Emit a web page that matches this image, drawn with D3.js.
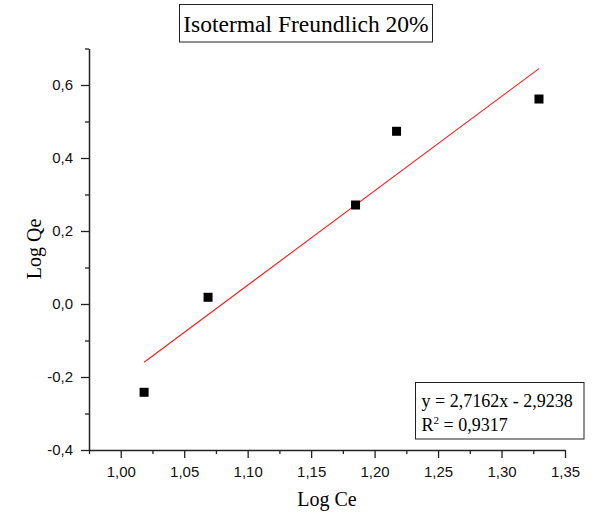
<!DOCTYPE html>
<html>
<head>
<meta charset="utf-8">
<script src="https://cdn.jsdelivr.net/npm/d3@7"></script>
<style>
  html, body { margin: 0; padding: 0; background: #fff; }
  svg { display: block; }
</style>
</head>
<body>
<svg id="chart" width="604" height="512"></svg>
<script>
// ---- data ----
const logCe = [1.0184, 1.0688, 1.1850, 1.2173, 1.3295];
const logQe = [-0.2419, 0.0184, 0.2712, 0.4732, 0.5616];
const xTicks = [1.00, 1.05, 1.10, 1.15, 1.20, 1.25, 1.30, 1.35];
const xMinorTicks = [0.975, 1.025, 1.075, 1.125, 1.175, 1.225, 1.275, 1.325];
const yTicks = [-0.4, -0.2, 0.0, 0.2, 0.4, 0.6];
const yMinorTicks = [-0.3, -0.1, 0.1, 0.3, 0.5, 0.7];
const titleText = "Isotermal Freundlich 20%";
const eqLines = ["y = 2,7162x - 2,9238", "R", " = 0,9317"];

const svg = d3.select("#chart");
const serif = "'Liberation Serif', 'Times New Roman', serif";
const sans = "'Liberation Sans', Arial, sans-serif";

const x = d3.scaleLinear().domain([0.975, 1.35]).range([89, 565]);
const y = d3.scaleLinear().domain([-0.4, 0.7]).range([450, 48.5]);

const fmt = d => d.toFixed(2).replace(".", ",");
const fmtY = d => (Math.abs(d) < 1e-9 ? 0 : d).toFixed(1).replace(".", ",");

// minor ticks
svg.append("g").attr("transform", "translate(0,450)")
  .call(d3.axisBottom(x).tickValues(xMinorTicks).tickSize(4).tickSizeOuter(0).tickFormat(""))
  .call(g => g.select(".domain").remove())
  .call(g => g.selectAll("line").attr("stroke", "#222").attr("stroke-width", 1.3));
svg.append("g").attr("transform", "translate(89,0)")
  .call(d3.axisLeft(y).tickValues(yMinorTicks).tickSize(4).tickSizeOuter(0).tickFormat(""))
  .call(g => g.select(".domain").remove())
  .call(g => g.selectAll("line").attr("stroke", "#222").attr("stroke-width", 1.3));

// major axes
const xAxis = svg.append("g").attr("transform", "translate(0,450)")
  .call(d3.axisBottom(x).tickValues(xTicks).tickSize(8).tickSizeOuter(0).tickPadding(8).tickFormat(fmt));
const yAxis = svg.append("g").attr("transform", "translate(89,0)")
  .call(d3.axisLeft(y).tickValues(yTicks).tickSize(8).tickSizeOuter(0).tickPadding(8).tickFormat(fmtY));

[xAxis, yAxis].forEach(g => {
  g.select(".domain").attr("stroke", "#222").attr("stroke-width", 1.5);
  g.selectAll(".tick line").attr("stroke", "#222").attr("stroke-width", 1.3);
  g.selectAll(".tick text").attr("fill", "#111").style("font-family", sans).style("font-size", "15px");
});

// regression line (least squares from data)
const mx = d3.mean(logCe), my = d3.mean(logQe);
let sxy = 0, sxx = 0;
logCe.forEach((v, i) => { sxy += (v - mx) * (logQe[i] - my); sxx += (v - mx) * (v - mx); });
const slope = sxy / sxx, intercept = my - slope * mx;
const x0 = d3.min(logCe), x1 = d3.max(logCe);
svg.append("line")
  .attr("x1", x(x0)).attr("y1", y(slope * x0 + intercept))
  .attr("x2", x(x1)).attr("y2", y(slope * x1 + intercept))
  .attr("stroke", "#ff1a1a").attr("stroke-width", 1.1);

// points
svg.selectAll("rect.pt").data(logCe).enter().append("rect")
  .attr("class", "pt")
  .attr("x", (d) => x(d) - 4.5)
  .attr("y", (d, i) => y(logQe[i]) - 4.5)
  .attr("width", 9).attr("height", 9)
  .attr("fill", "#000");

// title with box
svg.append("rect").attr("x", 179.5).attr("y", 4.5).attr("width", 253).attr("height", 37.5)
  .attr("fill", "#fff").attr("stroke", "#222").attr("stroke-width", 1);
svg.append("text").attr("x", 306).attr("y", 32).attr("text-anchor", "middle")
  .style("font-family", serif).style("font-size", "23.5px").attr("fill", "#000")
  .text(titleText);

// axis labels
svg.append("text").attr("x", 327).attr("y", 506).attr("text-anchor", "middle")
  .style("font-family", serif).style("font-size", "20px").attr("fill", "#000")
  .text("Log Ce");
svg.append("text").attr("transform", "translate(41,249) rotate(-90)").attr("text-anchor", "middle")
  .style("font-family", serif).style("font-size", "20px").attr("fill", "#000")
  .text("Log Qe");

// equation box
svg.append("rect").attr("x", 415.5).attr("y", 382.5).attr("width", 168.5).attr("height", 56.5)
  .attr("fill", "#fff").attr("stroke", "#222").attr("stroke-width", 1);
svg.append("text").attr("x", 421.5).attr("y", 407)
  .style("font-family", serif).style("font-size", "18px").attr("fill", "#000")
  .text(eqLines[0]);
const r2 = svg.append("text").attr("x", 421.5).attr("y", 430.5)
  .style("font-family", serif).style("font-size", "18px").attr("fill", "#000");
r2.append("tspan").text(eqLines[1]);
r2.append("tspan").attr("dy", -7).style("font-size", "11px").text("2");
r2.append("tspan").attr("dy", 7).text(eqLines[2]);
</script>
</body>
</html>
